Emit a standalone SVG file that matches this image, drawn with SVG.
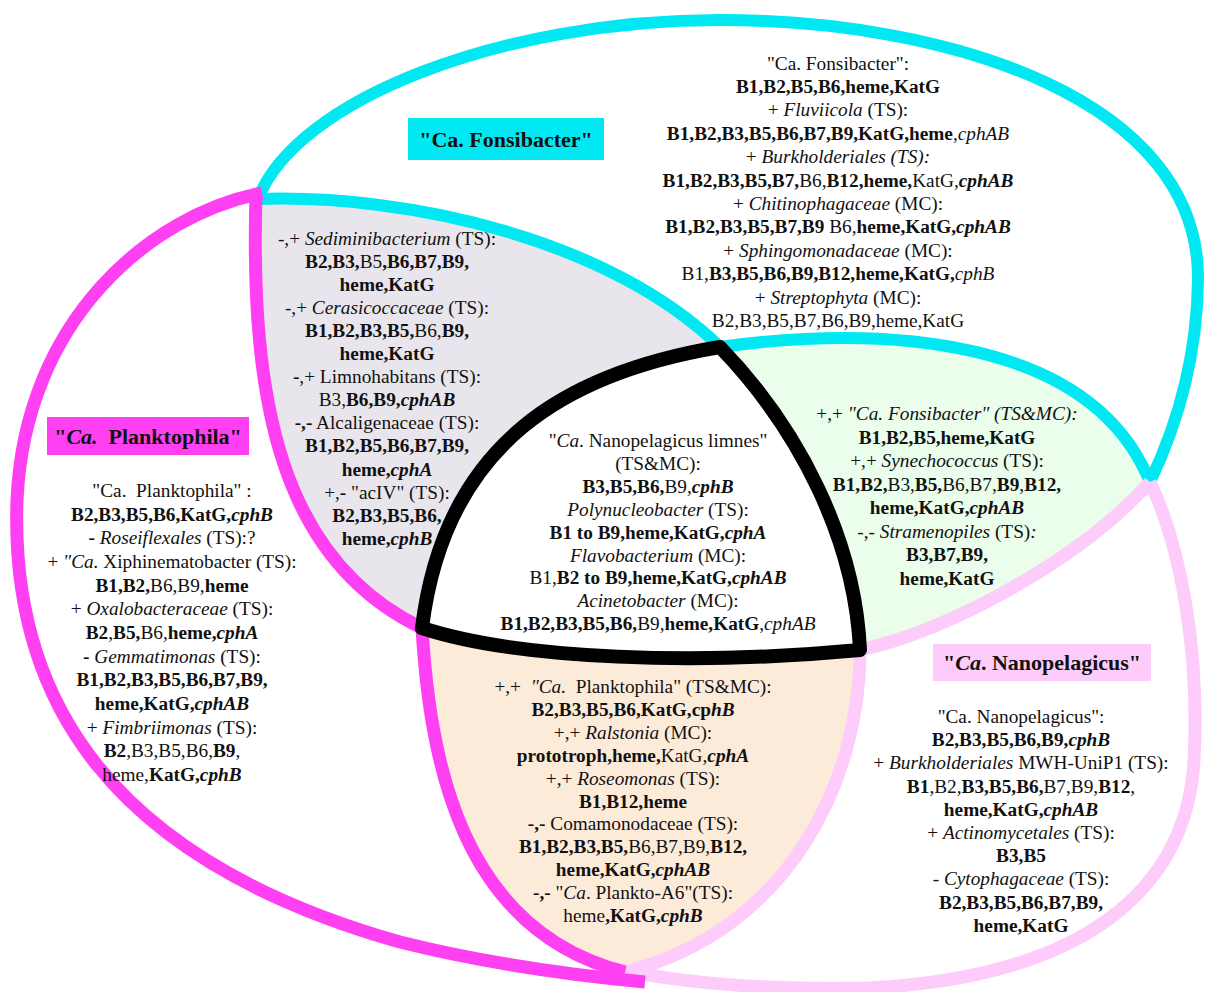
<svg xmlns="http://www.w3.org/2000/svg" width="1209" height="992" viewBox="0 0 1209 992">
<style>
text { font-family: 'Liberation Serif', 'DejaVu Serif', serif; font-size: 19.3px; fill: #111; text-anchor: middle; }
.b { font-weight: bold; }
.i { font-style: italic; }
.t { font-size: 22px; font-weight: bold; }
.pre { white-space: pre; }
.ln { fill: none; stroke-linejoin: round; }
.cy { stroke: #00e9f2; stroke-width: 12; }
.mg { stroke: #ff40f2; stroke-width: 13; }
.pk { stroke: #fdccfb; stroke-width: 13; }
.bk { stroke: #000; stroke-width: 14; }
</style>
<rect width="1209" height="992" fill="#fff"/>
<g id="regions">
  <path id="grey-region" fill="#e8e6ec" d="M258,199 C410,194 610,240 720,347 C570,372 445,440 422,628 C280,560 250,400 256,194 Z"/>
  <path id="green-region" fill="#ebfdeb" d="M720,347 C880,325 1090,335 1150,482 C1080,560 950,630 860,650 C855,540 800,430 720,347 Z"/>
  <path id="orange-region" fill="#fdebda" d="M422,628 C520,660 700,665 860,650 C860,780 790,930 625,972 C460,930 430,760 422,628 Z"/>
</g>
<g id="connectors">
  <g id="set-fonsibacter-outline" class="ln cy">
    <path d="M258,199 C296,100 500,20 720,20 C950,20 1200,100 1198,280 C1197,370 1170,440 1150,482"/>
    <path d="M258,199 C410,194 610,240 720,347"/>
    <path d="M720,347 C880,325 1090,335 1150,482"/>
  </g>
  <g id="set-nanopelagicus-outline" class="ln pk">
    <path d="M1150,482 C1180,545 1200,650 1194,760 C1188,870 1110,975 870,988 C780,990 690,985 610,968"/>
    <path d="M860,650 C950,630 1080,560 1150,482"/>
    <path d="M860,650 C860,780 790,930 625,972"/>
  </g>
  <g id="set-planktophila-outline" class="ln mg">
    <path d="M262,193 C150,215 25,320 17,500 C10,700 110,860 400,942 C480,962 560,974 645,982"/>
    <path d="M256,194 C250,400 280,560 422,628"/>
    <path d="M422,628 C430,760 460,930 625,972"/>
  </g>
  <g id="core-outline" class="ln bk">
    <path d="M720,347 C570,372 445,440 422,628 C520,660 700,665 860,650 C855,540 800,430 720,347 Z"/>
  </g>
</g>
<g id="label-fonsibacter">
  <rect x="408" y="118" width="196" height="42" fill="#00e9f2"/>
  <text class="t" x="506" y="147">"Ca. Fonsibacter"</text>
</g>
<g id="label-planktophila">
  <rect x="47" y="417" width="202" height="38" fill="#ff40f2"/>
  <text class="t pre" x="148" y="444">"<tspan class="i">Ca.</tspan>  Planktophila"</text>
</g>
<g id="label-nanopelagicus">
  <rect x="933" y="644" width="218" height="37" fill="#fdccfb"/>
  <text class="t" x="1042" y="670">"<tspan class="i">Ca</tspan>. Nanopelagicus"</text>
</g>
<g id="node-fonsibacter-only">
  <text x="838" y="69.5">"Ca. Fonsibacter":</text>
  <text class="b" x="838" y="92.9">B1,B2,B5,B6,heme,KatG</text>
  <text x="838" y="116.3">+ <tspan class="i">Fluviicola</tspan> (TS):</text>
  <text x="838" y="139.7"><tspan class="b">B1,B2,B3,B5,B6,B7,B9,KatG,heme</tspan>,<tspan class="i">cphAB</tspan></text>
  <text x="838" y="163.1">+ <tspan class="i">Burkholderiales (TS):</tspan></text>
  <text x="838" y="186.5"><tspan class="b">B1,B2,B3,B5,B7,</tspan>B6,<tspan class="b">B12,heme,</tspan>KatG,<tspan class="b i">cphAB</tspan></text>
  <text x="838" y="209.9">+ <tspan class="i">Chitinophagaceae</tspan> (MC):</text>
  <text x="838" y="233.3"><tspan class="b">B1,B2,B3,B5,B7,B9</tspan> B6,<tspan class="b">heme,KatG,</tspan><tspan class="b i">cphAB</tspan></text>
  <text x="838" y="256.7">+ <tspan class="i">Sphingomonadaceae</tspan> (MC):</text>
  <text x="838" y="280.1">B1,<tspan class="b">B3,B5,B6,B9,B12,heme,KatG,</tspan><tspan class="i">cphB</tspan></text>
  <text x="838" y="303.5">+ <tspan class="i">Streptophyta</tspan> (MC):</text>
  <text x="838" y="326.9">B2,B3,B5,B7,B6,B9,heme,KatG</text>
</g>
<g id="node-fonsibacter-planktophila">
  <text x="387" y="244.5">-,+ <tspan class="i">Sediminibacterium</tspan> (TS):</text>
  <text x="387" y="267.6"><tspan class="b">B2,B3,</tspan>B5<tspan class="b">,B6,B7,B9,</tspan></text>
  <text class="b" x="387" y="290.7">heme,KatG</text>
  <text x="387" y="313.8">-,+ <tspan class="i">Cerasicoccaceae</tspan> (TS):</text>
  <text x="387" y="336.9"><tspan class="b">B1,B2,B3,B5,</tspan>B6,<tspan class="b">B9,</tspan></text>
  <text class="b" x="387" y="360">heme,KatG</text>
  <text x="387" y="383.1"><tspan class="b">-</tspan>,+ Limnohabitans (TS):</text>
  <text x="387" y="406.2">B3,<tspan class="b">B6,B9,</tspan><tspan class="b i">cphAB</tspan></text>
  <text x="387" y="429.3"><tspan class="b">-,-</tspan> Alcaligenaceae (TS):</text>
  <text class="b" x="387" y="452.4">B1,B2,B5,B6,B7,B9,</text>
  <text x="387" y="475.5"><tspan class="b">heme,</tspan><tspan class="b i">cphA</tspan></text>
  <text x="387" y="498.6">+,<tspan class="b">-</tspan> "acIV" (TS):</text>
  <text class="b" x="387" y="521.7">B2,B3,B5,B6,</text>
  <text x="387" y="544.8"><tspan class="b">heme,</tspan><tspan class="b i">cphB</tspan></text>
</g>
<g id="node-planktophila-only">
  <text class="pre" x="172" y="497">"Ca.  Planktophila" :</text>
  <text x="172" y="520.7"><tspan class="b">B2,B3,B5,B6,KatG,</tspan><tspan class="b i">cphB</tspan></text>
  <text x="172" y="544.3"><tspan class="b">-</tspan> <tspan class="i">Roseiflexales</tspan> (TS):?</text>
  <text x="172" y="568">+ <tspan class="i">"Ca.</tspan> Xiphinematobacter (TS):</text>
  <text x="172" y="591.7"><tspan class="b">B1,B2,</tspan>B6,B9,<tspan class="b">heme</tspan></text>
  <text x="172" y="615.3">+ <tspan class="i">Oxalobacteraceae</tspan> (TS):</text>
  <text x="172" y="639"><tspan class="b">B2</tspan>,<tspan class="b">B5,</tspan>B6,<tspan class="b">heme,</tspan><tspan class="b i">cphA</tspan></text>
  <text x="172" y="662.7"><tspan class="b">-</tspan> <tspan class="i">Gemmatimonas</tspan> (TS):</text>
  <text class="b" x="172" y="686.4">B1,B2,B3,B5,B6,B7,B9,</text>
  <text x="172" y="710"><tspan class="b">heme,KatG,</tspan><tspan class="b i">cphAB</tspan></text>
  <text x="172" y="733.7">+ <tspan class="i">Fimbriimonas</tspan> (TS):</text>
  <text x="172" y="757.4"><tspan class="b">B2</tspan>,B3,B5,B6,<tspan class="b">B9</tspan>,</text>
  <text x="172" y="781">heme,<tspan class="b">KatG,</tspan><tspan class="b i">cphB</tspan></text>
</g>
<g id="node-all-three">
  <text x="658" y="447">"<tspan class="i">Ca</tspan>. Nanopelagicus limnes"</text>
  <text x="658" y="469.9">(TS&amp;MC):</text>
  <text x="658" y="492.8"><tspan class="b">B3,B5,B6,</tspan>B9,<tspan class="b i">cphB</tspan></text>
  <text x="658" y="515.7"><tspan class="i">Polynucleobacter</tspan> (TS):</text>
  <text x="658" y="538.6"><tspan class="b">B1 to B9,heme,KatG,</tspan><tspan class="b i">cphA</tspan></text>
  <text x="658" y="561.5"><tspan class="i">Flavobacterium</tspan> (MC):</text>
  <text x="658" y="584.4">B1,<tspan class="b">B2 to B9,heme,KatG,</tspan><tspan class="b i">cphAB</tspan></text>
  <text x="658" y="607.3"><tspan class="i">Acinetobacter</tspan> (MC):</text>
  <text x="658" y="630.2"><tspan class="b">B1,B2,B3,B5,B6,</tspan>B9,<tspan class="b">heme,KatG</tspan>,<tspan class="i">cphAB</tspan></text>
</g>
<g id="node-fonsibacter-nanopelagicus">
  <text x="947" y="420">+,+ <tspan class="i">"Ca. Fonsibacter" (TS&amp;MC):</tspan></text>
  <text class="b" x="947" y="443.6">B1,B2,B5,heme,KatG</text>
  <text x="947" y="467.1">+,+ <tspan class="i">Synechococcus</tspan> (TS):</text>
  <text x="947" y="490.7"><tspan class="b">B1,B2,</tspan>B3,<tspan class="b">B5,</tspan>B6,B7,<tspan class="b">B9</tspan>,<tspan class="b">B12,</tspan></text>
  <text x="947" y="514.3"><tspan class="b">heme,KatG,</tspan><tspan class="b i">cphAB</tspan></text>
  <text x="947" y="537.9">-,- <tspan class="i">Stramenopiles</tspan> (TS)<tspan class="i">:</tspan></text>
  <text class="b" x="947" y="561.4">B3,B7,B9,</text>
  <text class="b" x="947" y="585">heme,KatG</text>
</g>
<g id="node-planktophila-nanopelagicus">
  <text class="pre" x="633" y="693">+,+  <tspan class="i">"Ca.</tspan>  Planktophila" (TS&amp;MC):</text>
  <text x="633" y="715.9"><tspan class="b">B2,B3,B5,B6,KatG,cp</tspan><tspan class="b i">hB</tspan></text>
  <text x="633" y="738.8">+,+ <tspan class="i">Ralstonia</tspan> (MC):</text>
  <text x="633" y="761.7"><tspan class="b">prototroph,heme,</tspan>KatG,<tspan class="b i">cphA</tspan></text>
  <text x="633" y="784.6">+,+ <tspan class="i">Roseomonas</tspan> (TS):</text>
  <text class="b" x="633" y="807.5">B1,B12,heme</text>
  <text x="633" y="830.4"><tspan class="b">-,-</tspan> Comamonodaceae (TS):</text>
  <text x="633" y="853.3"><tspan class="b">B1,B2,B3,B5,</tspan>B6,B7,B9,<tspan class="b">B12,</tspan></text>
  <text x="633" y="876.2"><tspan class="b">heme,KatG,</tspan><tspan class="b i">cphAB</tspan></text>
  <text x="633" y="899.1"><tspan class="b">-,-</tspan> "<tspan class="i">Ca</tspan>. Plankto-A6"(TS):</text>
  <text x="633" y="922">heme<tspan class="b">,KatG,</tspan><tspan class="b i">cphB</tspan></text>
</g>
<g id="node-nanopelagicus-only">
  <text x="1021" y="723">"Ca. Nanopelagicus":</text>
  <text x="1021" y="746.2"><tspan class="b">B2,B3,B5,B6,B9,</tspan><tspan class="b i">cphB</tspan></text>
  <text x="1021" y="769.4">+ <tspan class="i">Burkholderiales</tspan> MWH-UniP1 (TS):</text>
  <text x="1021" y="792.6"><tspan class="b">B1</tspan>,B2,<tspan class="b">B3,B5,B6,</tspan>B7,B9,<tspan class="b">B12</tspan>,</text>
  <text x="1021" y="815.8"><tspan class="b">heme,KatG,</tspan><tspan class="b i">cphAB</tspan></text>
  <text x="1021" y="839">+ <tspan class="i">Actinomycetales</tspan> (TS):</text>
  <text class="b" x="1021" y="862.2">B3,B5</text>
  <text x="1021" y="885.4">- <tspan class="i">Cytophagaceae</tspan> (TS):</text>
  <text class="b" x="1021" y="908.6">B2,B3,B5,B6,B7,B9,</text>
  <text class="b" x="1021" y="931.8">heme,KatG</text>
</g>
</svg>
